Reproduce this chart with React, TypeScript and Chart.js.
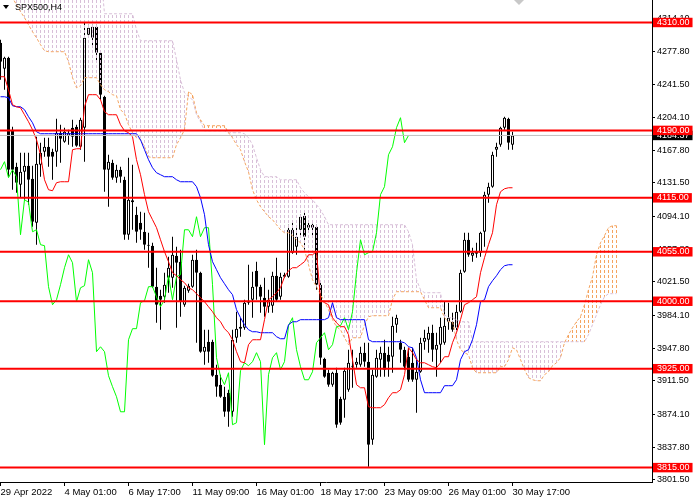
import React, { useEffect, useRef } from "react";
import { Chart, registerables } from "chart.js";

Chart.register(...registerables);

// ---- data (H4 bars, index 0 = 29 Apr 2022) ----
const opens = [
  4287.5, 4258.6, 4270.8, 4190.7, 4149.6, 4129.6, 4144.0, 4150.7, 4136.2, 4087.3,
  4151.8, 4166.3, 4171.8, 4166.3, 4166.3, 4187.4, 4177.4, 4184.1, 4193.0, 4194.1,
  4171.8, 4193.0, 4296.4, 4293.0, 4305.3, 4276.4, 4227.4, 4146.3, 4154.0, 4137.4,
  4146.3, 4135.1, 4074.0, 4112.3, 4096.2, 4087.3, 4077.3, 4062.9, 4061.8, 4016.2,
  4006.1, 4005.0, 4026.2, 4026.2, 4050.6, 4044.0, 3996.1, 4011.7, 4016.2, 4046.2,
  4031.7, 3943.9, 3955.0, 3955.0, 3918.3, 3907.2, 3893.8, 3898.3, 3877.1, 3959.4,
  3971.7, 3970.6, 3998.4, 4001.7, 4034.0, 4016.2, 4003.9, 3993.9, 3995.0, 4028.4,
  4005.0, 4027.3, 4027.3, 4054.0, 4060.6, 4079.5, 4095.1, 4085.1, 4085.1, 4082.9,
  4018.4, 3936.1, 3920.5, 3907.2, 3920.5, 3891.6, 3890.5, 3901.6, 3927.2, 3929.4,
  3929.4, 3942.8, 3932.8, 3846.0, 3916.1, 3935.0, 3942.8, 3940.5, 3938.3, 3973.9,
  3953.9, 3946.1, 3938.3, 3931.6, 3912.7, 3921.6, 3955.0, 3957.2, 3965.0, 3946.1,
  3951.7, 3953.9, 3977.2, 3977.2, 3970.6, 3988.4, 4032.8, 4068.4, 4050.6, 4052.8,
  4054.0, 4077.3, 4118.5, 4127.4, 4168.5, 4174.1, 4193.0, 4203.0, 4174.1,
];
const highs = [
  4290.8, 4271.9, 4271.9, 4194.1, 4154.0, 4165.2, 4165.2, 4165.2, 4150.7, 4182.9,
  4176.3, 4181.8, 4181.8, 4169.6, 4203.0, 4196.3, 4193.0, 4190.7, 4201.9, 4196.3,
  4204.1, 4309.7, 4307.5, 4307.5, 4307.5, 4277.5, 4228.5, 4162.9, 4157.4, 4151.8,
  4149.6, 4138.5, 4159.6, 4151.8, 4105.1, 4099.6, 4098.4, 4076.2, 4065.1, 4037.3,
  4012.8, 4031.7, 4049.5, 4071.8, 4060.6, 4057.3, 4017.3, 4019.5, 4051.7, 4057.3,
  4032.8, 3968.3, 3968.3, 3957.2, 3929.4, 3918.3, 3905.0, 3901.6, 3968.3, 3988.4,
  3981.7, 4001.7, 4040.6, 4032.8, 4044.0, 4018.4, 4026.2, 4012.8, 4032.8, 4048.4,
  4031.7, 4031.7, 4085.1, 4087.3, 4082.9, 4096.2, 4098.4, 4087.3, 4086.2, 4085.1,
  4020.6, 3937.2, 3923.9, 3921.6, 3926.1, 3893.8, 3926.1, 3946.1, 3946.1, 3937.2,
  3949.4, 3953.9, 3953.9, 3923.9, 3946.1, 3949.4, 3957.2, 3949.4, 3982.8, 3985.0,
  3957.2, 3949.4, 3948.3, 3948.3, 3935.0, 3959.4, 3968.3, 3971.7, 3973.9, 3965.0,
  3981.7, 3999.5, 3998.4, 3987.2, 3996.1, 4035.1, 4076.2, 4076.2, 4059.5, 4065.1,
  4077.3, 4121.8, 4131.8, 4166.3, 4176.3, 4194.1, 4205.2, 4204.1, 4188.5,
];
const lows = [
  4246.3, 4235.2, 4138.5, 4124.0, 4120.7, 4115.1, 4112.9, 4107.3, 4082.9, 4062.9,
  4138.5, 4160.7, 4149.6, 4135.1, 4149.6, 4154.0, 4176.3, 4174.1, 4171.8, 4171.8,
  4168.5, 4155.2, 4294.2, 4283.0, 4265.2, 4224.1, 4121.8, 4105.1, 4135.1, 4131.8,
  4131.8, 4068.4, 4068.4, 4079.5, 4065.1, 4068.4, 4057.3, 4037.3, 4015.0, 3976.1,
  3968.3, 3998.4, 4009.5, 4015.0, 3970.6, 3982.8, 3993.9, 4009.5, 4015.0, 3953.9,
  3942.8, 3929.4, 3931.6, 3916.1, 3893.8, 3892.7, 3871.6, 3860.5, 3871.6, 3953.9,
  3960.6, 3968.3, 3996.1, 3981.7, 4001.7, 3987.2, 3982.8, 3987.2, 3987.2, 3999.5,
  4001.7, 4026.2, 4026.2, 4052.8, 4051.7, 4071.8, 4057.3, 4076.2, 4071.8, 4012.8,
  3929.4, 3915.0, 3905.0, 3905.0, 3859.4, 3862.7, 3870.5, 3899.4, 3903.8, 3926.1,
  3927.2, 3927.2, 3816.0, 3840.5, 3915.0, 3916.1, 3916.1, 3916.1, 3920.5, 3965.0,
  3931.6, 3923.9, 3910.5, 3910.5, 3876.0, 3920.5, 3946.1, 3942.8, 3932.8, 3916.1,
  3931.6, 3951.7, 3968.3, 3966.1, 3965.0, 3987.2, 4031.7, 4049.5, 4044.0, 4048.4,
  4049.5, 4060.6, 4109.6, 4126.2, 4160.7, 4171.8, 4190.7, 4168.5, 4168.5,
];
const closes = [
  4266.4, 4270.8, 4146.3, 4146.3, 4131.8, 4144.0, 4150.7, 4135.1, 4088.4, 4152.9,
  4165.2, 4171.8, 4160.7, 4160.7, 4187.4, 4180.7, 4188.5, 4187.4, 4183.0, 4172.9,
  4201.9, 4293.0, 4304.2, 4305.3, 4276.4, 4229.7, 4146.3, 4155.2, 4137.4, 4146.3,
  4138.5, 4074.0, 4112.9, 4110.1, 4077.3, 4079.5, 4062.9, 4061.8, 4016.2, 3996.1,
  4001.7, 4018.4, 4037.3, 4051.7, 4042.8, 3999.5, 4015.0, 4017.3, 4046.2, 4031.7,
  3943.9, 3949.4, 3943.9, 3917.2, 3905.0, 3893.8, 3877.1, 3877.1, 3957.2, 3969.5,
  3969.5, 3998.4, 4000.6, 4016.2, 4016.2, 4005.0, 3993.9, 4001.7, 4028.4, 4001.7,
  4027.3, 4029.5, 4079.5, 4079.5, 4071.8, 4094.0, 4071.8, 4081.8, 4081.8, 4018.4,
  3937.2, 3916.1, 3907.2, 3920.5, 3862.7, 3864.9, 3922.7, 3931.6, 3928.3, 3932.8,
  3942.8, 3932.8, 3840.5, 3918.3, 3937.2, 3942.8, 3923.9, 3932.8, 3972.8, 3981.7,
  3946.1, 3927.2, 3912.7, 3912.7, 3921.6, 3953.9, 3959.4, 3965.0, 3946.1, 3951.7,
  3971.7, 3972.8, 3981.7, 3968.3, 3988.4, 4031.7, 4068.4, 4051.7, 4054.0, 4055.1,
  4076.2, 4118.5, 4127.4, 4162.9, 4171.8, 4193.0, 4204.1, 4176.3, 4184.37,
];
const tenkan = [
  4249.7, 4249.7, 4235.2, 4218.5, 4216.3, 4215.2, 4207.4, 4199.6, 4190.7, 4179.6,
  4162.9, 4135.1, 4124.0, 4122.9, 4131.8, 4132.9, 4132.9, 4132.9, 4168.5, 4169.6,
  4169.6, 4216.3, 4229.7, 4229.7, 4229.7, 4224.1, 4210.8, 4207.4, 4207.4, 4207.4,
  4196.3, 4189.6, 4187.4, 4183.0, 4157.4, 4140.7, 4118.5, 4099.6, 4090.7, 4081.8,
  4068.4, 4055.1, 4044.0, 4031.7, 4028.4, 4023.9, 4020.6, 4015.0, 4012.8, 4008.4,
  4003.9, 3999.5, 3993.9, 3988.4, 3981.7, 3977.2, 3969.5, 3965.0, 3957.2, 3943.9,
  3932.8, 3931.6, 3951.7, 3957.2, 3957.2, 3957.2, 3979.5, 4001.7, 4005.0, 4009.5,
  4015.0, 4027.3, 4033.9, 4037.3, 4037.3, 4040.6, 4044.0, 4051.7, 4051.7, 4055.1,
  4001.7, 3998.4, 3996.1, 3981.7, 3976.1, 3971.7, 3971.7, 3962.8, 3935.0, 3907.2,
  3903.8, 3903.8, 3882.7, 3881.6, 3881.6, 3881.6, 3885.0, 3892.7, 3898.3, 3898.3,
  3901.6, 3918.3, 3948.3, 3942.8, 3935.0, 3931.6, 3931.6, 3929.4, 3927.2, 3926.1,
  3931.6, 3938.3, 3938.3, 3953.9, 3965.0, 3979.5, 3996.1, 3998.4, 4001.7, 4005.0,
  4031.7, 4048.4, 4062.9, 4076.2, 4107.3, 4121.8, 4125.1, 4126.2, 4126.2,
];
const kijun = [
  4227.4, 4227.4, 4226.3, 4217.4, 4216.3, 4216.3, 4213.0, 4205.2, 4198.5, 4188.5,
  4186.3, 4186.3, 4186.3, 4186.3, 4186.3, 4186.3, 4186.3, 4186.3, 4186.3, 4186.3,
  4186.3, 4186.3, 4186.3, 4186.3, 4186.3, 4186.3, 4186.3, 4186.3, 4186.3, 4186.3,
  4186.3, 4186.3, 4186.3, 4186.3, 4186.3, 4179.6, 4168.5, 4157.4, 4148.5, 4142.9,
  4140.7, 4138.5, 4138.5, 4138.5, 4135.1, 4132.9, 4132.9, 4132.9, 4132.9, 4127.4,
  4115.1, 4096.2, 4062.9, 4044.0, 4035.1, 4026.2, 4019.5, 4012.8, 4007.3, 3990.6,
  3981.7, 3973.9, 3968.3, 3966.1, 3966.1, 3965.0, 3965.0, 3965.0, 3965.0, 3960.6,
  3958.3, 3958.3, 3973.9, 3977.2, 3977.2, 3979.5, 3979.5, 3979.5, 3979.5, 3979.5,
  3979.5, 3979.5, 3981.7, 3998.4, 3981.7, 3979.5, 3979.5, 3979.5, 3979.5, 3979.5,
  3979.5, 3979.5, 3957.2, 3955.0, 3955.0, 3955.0, 3955.0, 3955.0, 3955.0, 3955.0,
  3955.0, 3953.9, 3949.4, 3948.3, 3937.2, 3912.7, 3898.3, 3898.3, 3898.3, 3898.3,
  3898.3, 3906.1, 3906.1, 3906.1, 3912.7, 3935.0, 3943.9, 3946.1, 3957.2, 3973.9,
  3999.5, 4001.7, 4016.2, 4022.8, 4028.4, 4035.1, 4039.5, 4040.6, 4040.6,
];
// Senkou spans as plotted (already shifted 26 bars ahead), index 0..154
const spanA = [
  4357.5, 4352.0, 4344.2, 4337.5, 4329.7, 4322.0, 4315.3, 4307.5, 4299.7, 4293.0,
  4285.3, 4278.6, 4277.5, 4277.5, 4277.5, 4277.5, 4277.5, 4266.4, 4248.6, 4237.4,
  4239.7, 4248.6, 4248.6, 4248.6, 4248.6, 4240.8, 4235.2, 4233.0, 4229.7, 4228.5,
  4213.0, 4208.5, 4196.3, 4187.4, 4181.8, 4179.6, 4171.8, 4160.7, 4159.6, 4159.6,
  4159.6, 4159.6, 4159.6, 4159.6, 4174.1, 4181.8, 4190.7, 4233.0, 4229.7, 4209.7,
  4201.9, 4195.2, 4195.2, 4195.2, 4195.2, 4195.2, 4195.2, 4187.4, 4181.8, 4174.1,
  4168.5, 4155.2, 4144.0, 4124.0, 4112.9, 4105.1, 4099.6, 4094.0, 4090.7, 4085.1,
  4079.5, 4076.2, 4076.2, 4072.9, 4068.4, 4065.1, 4057.3, 4040.6, 4023.9, 4016.2,
  4007.3, 3999.5, 3990.6, 3979.5, 3971.7, 3968.3, 3959.4, 3951.7, 3959.4, 3959.4,
  3959.4, 3973.9, 3982.8, 3983.9, 3983.9, 3983.9, 3983.9, 3983.9, 4001.7, 4010.6,
  4010.6, 4010.6, 4010.6, 4010.6, 4010.6, 4010.6, 4001.7, 3992.8, 3992.8, 3992.8,
  3992.8, 3981.7, 3977.2, 3977.2, 3957.2, 3946.1, 3942.8, 3940.5, 3926.1, 3920.5,
  3920.5, 3920.5, 3920.5, 3920.5, 3920.5, 3927.2, 3927.2, 3935.0, 3948.3, 3946.1,
  3935.0, 3923.9, 3915.0, 3912.7, 3911.6, 3911.6, 3918.3, 3921.6, 3928.3, 3931.6,
  3937.2, 3953.9, 3962.8, 3970.6, 3977.2, 3982.8, 3996.1, 4012.8, 4027.3, 4051.7,
  4065.1, 4072.9, 4081.8, 4084.0, 4084.0,
];
const spanB = [
  4370.0, 4370.0, 4370.0, 4370.0, 4370.0, 4370.0, 4370.0, 4370.0, 4370.0, 4370.0,
  4370.0, 4370.0, 4370.0, 4370.0, 4370.0, 4370.0, 4370.0, 4370.0, 4370.0, 4370.0,
  4370.0, 4370.0, 4370.0, 4370.0, 4370.0, 4370.0, 4319.7, 4319.7, 4319.7, 4319.7,
  4319.7, 4319.7, 4319.7, 4319.7, 4301.9, 4289.7, 4289.7, 4289.7, 4289.7, 4289.7,
  4289.7, 4289.7, 4289.7, 4289.7, 4268.6, 4246.3, 4231.9, 4227.4, 4224.1, 4207.4,
  4199.6, 4189.6, 4189.6, 4189.6, 4189.6, 4189.6, 4189.6, 4187.4, 4187.4, 4187.4,
  4187.4, 4186.3, 4181.8, 4174.1, 4159.6, 4146.3, 4138.5, 4138.5, 4138.5, 4138.5,
  4135.1, 4135.1, 4135.1, 4135.1, 4135.1, 4126.2, 4120.7, 4116.2, 4112.9, 4107.3,
  4101.8, 4094.0, 4085.1, 4085.1, 4085.1, 4085.1, 4085.1, 4085.1, 4085.1, 4085.1,
  4085.1, 4085.1, 4085.1, 4085.1, 4085.1, 4085.1, 4085.1, 4085.1, 4085.1, 4085.1,
  4085.1, 4085.1, 4077.3, 4062.9, 4023.9, 4012.8, 4009.5, 4009.5, 4009.5, 4009.5,
  4009.5, 3985.0, 3981.7, 3981.7, 3979.5, 3977.2, 3977.2, 3977.2, 3955.0, 3955.0,
  3955.0, 3955.0, 3955.0, 3955.0, 3955.0, 3955.0, 3955.0, 3955.0, 3955.0, 3955.0,
  3955.0, 3955.0, 3955.0, 3955.0, 3955.0, 3955.0, 3955.0, 3955.0, 3955.0, 3955.0,
  3955.0, 3955.0, 3955.0, 3955.0, 3955.0, 3955.0, 3955.0, 3962.8, 3973.9, 3985.0,
  3996.1, 4005.0, 4008.4, 4008.4, 4008.4,
];
const chikouShift = 26;
const levels = [4310, 4190, 4115, 4055, 4000, 3925, 3815];
const lastPrice = 4184.37;
const yTickValues = [
  4314.1, 4277.8, 4241.5, 4204.1, 4167.8, 4131.5, 4094.1, 4057.8,
  4021.5, 3984.1, 3947.8, 3911.5, 3874.1, 3837.8, 3801.5,
];
const xTickBars = [0, 16, 32, 48, 64, 80, 96, 112, 128];
const xTickLabels = [
  "29 Apr 2022", "4 May 01:00", "6 May 17:00", "11 May 09:00", "16 May 01:00",
  "18 May 17:00", "23 May 09:00", "26 May 01:00", "30 May 17:00",
];

export default function App() {
  const ref = useRef<HTMLCanvasElement | null>(null);

  useEffect(() => {
    const canvas = ref.current;
    if (!canvas) return;
    const mkPattern = (color: string) => {
      const c = document.createElement("canvas");
      c.width = 1;
      c.height = 5;
      const g = c.getContext("2d")!;
      g.fillStyle = color;
      g.fillRect(0, 0, 1, 3);
      return canvas.getContext("2d")!.createPattern(c, "repeat");
    };
    const thistlePat = mkPattern("#D8BFD8");
    const sandyPat = mkPattern("#F4A460");

    const idx = closes.map((_, i) => i);
    const wicks = idx.map((i) => ({ x: i, y: [lows[i], highs[i]] }));
    const bodies = idx.map((i) => ({ x: i, y: [opens[i], closes[i]] }));
    const cloudDown: any[] = [];
    const cloudUp: any[] = [];
    spanA.forEach((a, i) => {
      const b = spanB[i];
      if (a > b) cloudUp.push({ x: i, y: [b, a] });
      else cloudDown.push({ x: i, y: [a, b] });
    });
    const line = (arr: number[], offset = 0) =>
      arr.map((v, i) => ({ x: i + offset, y: v }));
    const chikou = closes
      .slice(chikouShift)
      .map((v, k) => ({ x: k, y: v }));
    const special = new Set<number>([...levels, lastPrice]);

    const lineBase = {
      type: "line" as const,
      pointRadius: 0,
      borderWidth: 1,
      tension: 0,
      fill: false,
    };

    const datasets: any[] = [
      ...levels.map((lv) => ({
        ...lineBase,
        data: [
          { x: -2, y: lv },
          { x: 170, y: lv },
        ],
        borderColor: "#FF0000",
        borderWidth: 2,
        order: 0,
      })),
      {
        ...lineBase,
        data: [
          { x: -2, y: lastPrice },
          { x: 170, y: lastPrice },
        ],
        borderColor: "#C0C0C0",
        order: 1,
      },
      { ...lineBase, data: line(tenkan), borderColor: "#FF0000", order: 2 },
      { ...lineBase, data: line(kijun), borderColor: "#0000FF", order: 2 },
      { ...lineBase, data: chikou, borderColor: "#00FF00", order: 2 },
      {
        ...lineBase,
        data: line(spanA),
        borderColor: "#F4A460",
        borderDash: [3, 2],
        order: 3,
      },
      {
        ...lineBase,
        data: line(spanB),
        borderColor: "#D8BFD8",
        borderDash: [3, 2],
        order: 3,
      },
      {
        type: "bar",
        data: cloudDown,
        backgroundColor: thistlePat,
        borderWidth: 0,
        barThickness: 1,
        grouped: false,
        inflateAmount: 0,
        order: 4,
      },
      {
        type: "bar",
        data: cloudUp,
        backgroundColor: sandyPat,
        borderWidth: 0,
        barThickness: 1,
        grouped: false,
        inflateAmount: 0,
        order: 4,
      },
      {
        type: "bar",
        data: bodies,
        backgroundColor: (c: any) =>
          closes[c.dataIndex] >= opens[c.dataIndex] ? "#FFFFFF" : "#000000",
        borderColor: "#000000",
        borderWidth: 1,
        borderSkipped: false,
        barThickness: 3,
        minBarLength: 1,
        grouped: false,
        inflateAmount: 0,
        order: 5,
      },
      {
        type: "bar",
        data: wicks,
        backgroundColor: "#000000",
        borderWidth: 0,
        barThickness: 1,
        grouped: false,
        inflateAmount: 0,
        order: 6,
      },
    ];

    const chart = new Chart(canvas, {
      type: "bar",
      data: { datasets },
      options: {
        animation: false,
        responsive: false,
        events: [],
        layout: { padding: 0 },
        plugins: {
          legend: { display: false },
          tooltip: { enabled: false },
          title: { display: false },
        },
        scales: {
          x: {
            type: "linear",
            position: "bottom",
            min: -0.125,
            max: 162.875,
            offset: false,
            grid: {
              offset: false,
              drawOnChartArea: false,
              drawTicks: true,
              tickLength: 4,
              color: "#000000",
            },
            border: { display: true, color: "#000000", width: 1 },
            ticks: {
              autoSkip: false,
              maxRotation: 0,
              minRotation: 0,
              align: "start",
              padding: 1,
              color: "#000000",
              font: { family: "Liberation Sans", size: 9.5 },
              callback: (v: any) => {
                const k = xTickBars.indexOf(Number(v));
                return k >= 0 ? xTickLabels[k] : "";
              },
            },
            afterBuildTicks: (s: any) => {
              s.ticks = xTickBars.map((v) => ({ value: v }));
            },
            afterFit: (s: any) => {
              s.height = 18;
              s.paddingLeft = 0;
              s.paddingRight = 0;
            },
          },
          y: {
            type: "linear",
            position: "right",
            min: 3799,
            max: 4335,
            grid: {
              drawOnChartArea: false,
              drawTicks: true,
              tickLength: 3,
              color: "#000000",
            },
            border: { display: true, color: "#000000", width: 1 },
            ticks: {
              autoSkip: false,
              padding: 2,
              font: { family: "Liberation Sans", size: 9, lineHeight: 1.05 },
              color: (c: any) =>
                c.tick && special.has(c.tick.value) ? "#FFFFFF" : "#000000",
              showLabelBackdrop: (c: any) =>
                !!(c.tick && special.has(c.tick.value)),
              backdropColor: (c: any) =>
                c.tick && c.tick.value === lastPrice
                  ? "#000000"
                  : c.tick && special.has(c.tick.value)
                  ? "#FF0000"
                  : "rgba(0,0,0,0)",
              backdropPadding: { left: 4, right: 3, top: 0, bottom: 0 },
              callback: (v: any) => Number(v).toFixed(2),
            },
            afterBuildTicks: (s: any) => {
              s.ticks = [...yTickValues, lastPrice, ...levels].map((v) => ({
                value: v,
              }));
            },
            afterFit: (s: any) => {
              s.width = 48;
              s.paddingTop = 0;
              s.paddingBottom = 0;
            },
          },
        },
      } as any,
    });
    return () => chart.destroy();
  }, []);

  return (
    <div
      style={{
        position: "fixed",
        left: 0,
        top: 0,
        width: 700,
        height: 500,
        background: "#FFFFFF",
        overflow: "hidden",
      }}
    >
      <canvas
        ref={ref}
        width={700}
        height={500}
        style={{ display: "block", width: 700, height: 500 }}
      />
      <div
        style={{
          position: "absolute",
          left: 3,
          top: 5,
          width: 0,
          height: 0,
          borderLeft: "3.5px solid transparent",
          borderRight: "3.5px solid transparent",
          borderTop: "4px solid #000000",
        }}
      />
      <div
        style={{
          position: "absolute",
          left: 15,
          top: 1,
          font: '9px "Liberation Sans"',
          color: "#000000",
          lineHeight: "12px",
          whiteSpace: "nowrap",
        }}
      >
        SPX500,H4
      </div>
      <div
        style={{
          position: "absolute",
          left: 514,
          top: 0,
          width: 0,
          height: 0,
          borderLeft: "5px solid transparent",
          borderRight: "5px solid transparent",
          borderTop: "5px solid #C8C8C8",
        }}
      />
    </div>
  );
}
